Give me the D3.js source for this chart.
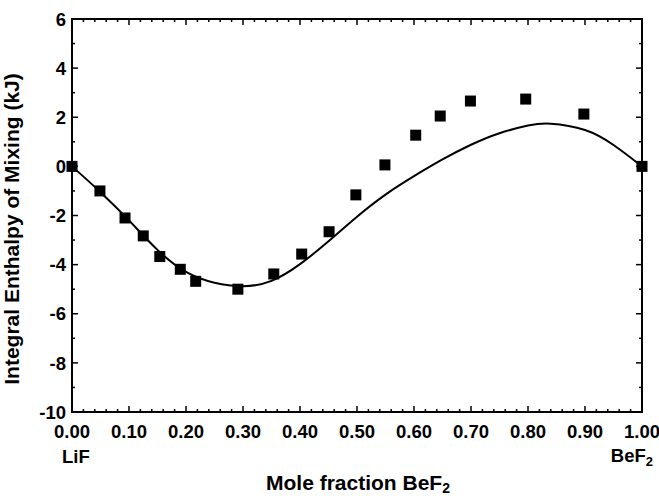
<!DOCTYPE html>
<html>
<head>
<meta charset="utf-8">
<script src="https://cdn.jsdelivr.net/npm/d3@7"></script>
<style>
  body { margin: 0; background: #fff; }
  text { font-family: "Liberation Sans", Arial, sans-serif; font-weight: bold; fill: #000; }
</style>
</head>
<body>
<div id="chart"></div>
<script>
var width  = 659;
var height = 498;
var margin = {top: 19, right: 17, bottom: 86, left: 72};

// measured points (mole fraction BeF2, kJ)
var pointX = [0.00, 0.049, 0.093, 0.125, 0.154, 0.19, 0.217, 0.291, 0.354, 0.403, 0.451, 0.498, 0.549, 0.603, 0.646, 0.699, 0.796, 0.898, 1.00];
var pointY = [0.00, -1.00, -2.10, -2.83, -3.67, -4.19, -4.68, -5.00, -4.38, -3.57, -2.66, -1.16, 0.06, 1.27, 2.05, 2.66, 2.74, 2.13, 0.00];

// fitted curve
var curveX = [0.00, 0.05, 0.10, 0.15, 0.20, 0.25, 0.30, 0.35, 0.40, 0.45, 0.50, 0.55, 0.60, 0.65, 0.70, 0.75, 0.80, 0.84, 0.90, 0.95, 1.00];
var curveY = [0.00, -1.05, -2.20, -3.40, -4.30, -4.74, -4.88, -4.66, -3.98, -3.05, -2.05, -1.15, -0.40, 0.28, 0.88, 1.35, 1.66, 1.74, 1.48, 0.87, 0.00];

var xTicks = [0, 0.1, 0.2, 0.3, 0.4, 0.5, 0.6, 0.7, 0.8, 0.9, 1.0];
var yTicks = [-10, -8, -6, -4, -2, 0, 2, 4, 6];

var points = pointX.map(function(d, i) { return {x: d, y: pointY[i]}; });
var curve  = curveX.map(function(d, i) { return {x: d, y: curveY[i]}; });

var x = d3.scaleLinear().domain([0, 1]).range([margin.left, width - margin.right]);
var y = d3.scaleLinear().domain([-10, 6]).range([height - margin.bottom, margin.top]);

var svg = d3.select("#chart").append("svg")
    .attr("width", width)
    .attr("height", height);

var minorX = d3.range(0, 1.0001, 0.02);
var minorY = d3.range(-10, 6.0001, 1);

// inward ticks on all four sides
var yBot = y(-10), yTop = y(6), xLeft = x(0), xRight = x(1);
function isMajorX(v) { return Math.abs(v * 10 - Math.round(v * 10)) < 1e-6; }
function isMajorY(v) { return Math.abs(v % 2) < 1e-6; }

var ticks = svg.append("g").attr("stroke", "#000").attr("stroke-width", 1.5);
minorX.forEach(function(v) {
  var len = isMajorX(v) ? 6 : 3;
  ticks.append("line").attr("x1", x(v)).attr("x2", x(v)).attr("y1", yBot).attr("y2", yBot - len);
  ticks.append("line").attr("x1", x(v)).attr("x2", x(v)).attr("y1", yTop).attr("y2", yTop + len);
});
minorY.forEach(function(v) {
  var len = isMajorY(v) ? 6 : 3;
  ticks.append("line").attr("y1", y(v)).attr("y2", y(v)).attr("x1", xLeft).attr("x2", xLeft + len);
  ticks.append("line").attr("y1", y(v)).attr("y2", y(v)).attr("x1", xRight).attr("x2", xRight - len);
});

svg.append("rect")
    .attr("x", xLeft).attr("y", yTop)
    .attr("width", xRight - xLeft).attr("height", yBot - yTop)
    .attr("fill", "none").attr("stroke", "#000").attr("stroke-width", 2);

// tick labels
svg.append("g").selectAll("text")
    .data(xTicks).enter().append("text")
    .attr("x", function(d) { return x(d); })
    .attr("y", 438)
    .attr("text-anchor", "middle")
    .style("font-size", "18.5px")
    .text(function(d) { return d3.format(".2f")(d); });

svg.append("g").selectAll("text")
    .data(yTicks).enter().append("text")
    .attr("x", xLeft - 6)
    .attr("y", function(d) { return y(d); })
    .attr("dy", "0.36em")
    .attr("text-anchor", "end")
    .style("font-size", "18.5px")
    .text(function(d) { return d; });

svg.append("text")
    .attr("x", 62).attr("y", 463)
    .style("font-size", "18.5px")
    .text("LiF");

var bef = svg.append("text")
    .attr("x", 653).attr("y", 462)
    .attr("text-anchor", "end")
    .style("font-size", "18.5px");
bef.append("tspan").text("BeF");
bef.append("tspan").attr("dy", 4).style("font-size", "13px").text("2");

var xt = svg.append("text")
    .attr("x", 358).attr("y", 490)
    .attr("text-anchor", "middle")
    .style("font-size", "21px");
xt.append("tspan").text("Mole fraction BeF");
xt.append("tspan").attr("dy", 3).style("font-size", "14px").text("2");

svg.append("text")
    .attr("transform", "translate(19,229) rotate(-90)")
    .attr("text-anchor", "middle")
    .style("font-size", "21px")
    .text("Integral Enthalpy of Mixing (kJ)");

// fitted line
var line = d3.line()
    .curve(d3.curveNatural)
    .x(function(d) { return x(d.x); })
    .y(function(d) { return y(d.y); });

svg.append("path")
    .attr("d", line(curve))
    .attr("fill", "none")
    .attr("stroke", "#000")
    .attr("stroke-width", 2);

// squares
var s = 11;
svg.append("g").selectAll("rect")
    .data(points).enter().append("rect")
    .attr("x", function(d) { return x(d.x) - s / 2; })
    .attr("y", function(d) { return y(d.y) - s / 2; })
    .attr("width", s).attr("height", s)
    .attr("fill", "#000");
</script>
</body>
</html>
